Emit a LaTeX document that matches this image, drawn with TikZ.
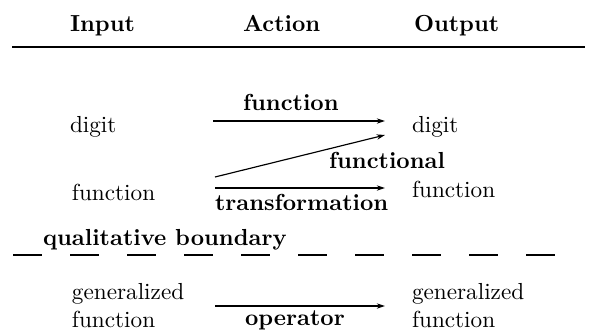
\documentclass[tikz,border=0pt]{standalone}
\usetikzlibrary{arrows.meta}
\begin{document}
\begin{tikzpicture}[x=0.431pt,y=-0.431pt,
  txt/.style={anchor=base west,inner sep=0pt,outer sep=0pt},
  hd/.style={txt,font=\bfseries},
  lbl/.style={txt,font=\bfseries},
  arr/.style={line width=0.5pt,-{Stealth[length=3.6pt,width=2.3pt]}},
  rule/.style={line width=0.55pt},
  bound/.style={line width=0.45pt,dash pattern=on 12.3pt off 12.27pt}]
\useasboundingbox (0,0) rectangle (592,332);
% headers
\node[hd] (hin) at (70,31) {Input};
\node[hd] (hact) at (243,31) {Action};
\node[hd] (hout) at (414,31) {Output};
\coordinate (rl) at (12,47);
\coordinate (rr) at (585,47);
\draw[rule] (rl) -- (rr);
% row 1
\node[txt] (digitL) at (70,132) {digit};
\node[txt] (digitR) at (412,132) {digit};
\node[lbl] (lfun) at (243,110) {function};
\coordinate (a1s) at (213,121);
\coordinate (a1e) at (385,121);
\draw[arr] (a1s) -- (a1e);
% row 2
\node[txt] (funL) at (72,200) {function};
\node[txt] (funR) at (412,197) {function};
\node[lbl] (lfnl) at (329,168) {functional};
\node[lbl] (ltr) at (215,210) {transformation};
\coordinate (a2s) at (215,177);
\coordinate (a2e) at (385,135);
\draw[arr] (a2s) -- (a2e);
\coordinate (a3s) at (215,188);
\coordinate (a3e) at (385,188);
\draw[arr] (a3s) -- (a3e);
% boundary
\node[lbl] (qb) at (43,245) {qualitative boundary};
\coordinate (bl) at (13,255);
\coordinate (br) at (557,255);
\draw[bound] (bl) -- (br);
% row 3
\node[txt] (genL) at (72,299) {generalized};
\node[txt] (genfL) at (72,327) {function};
\node[txt] (genR) at (412,299) {generalized};
\node[txt] (genfR) at (412,327) {function};
\node[lbl] (lop) at (245,325) {operator};
\coordinate (a4s) at (215,306);
\coordinate (a4e) at (385,306);
\draw[arr] (a4s) -- (a4e);
\end{tikzpicture}
\end{document}
